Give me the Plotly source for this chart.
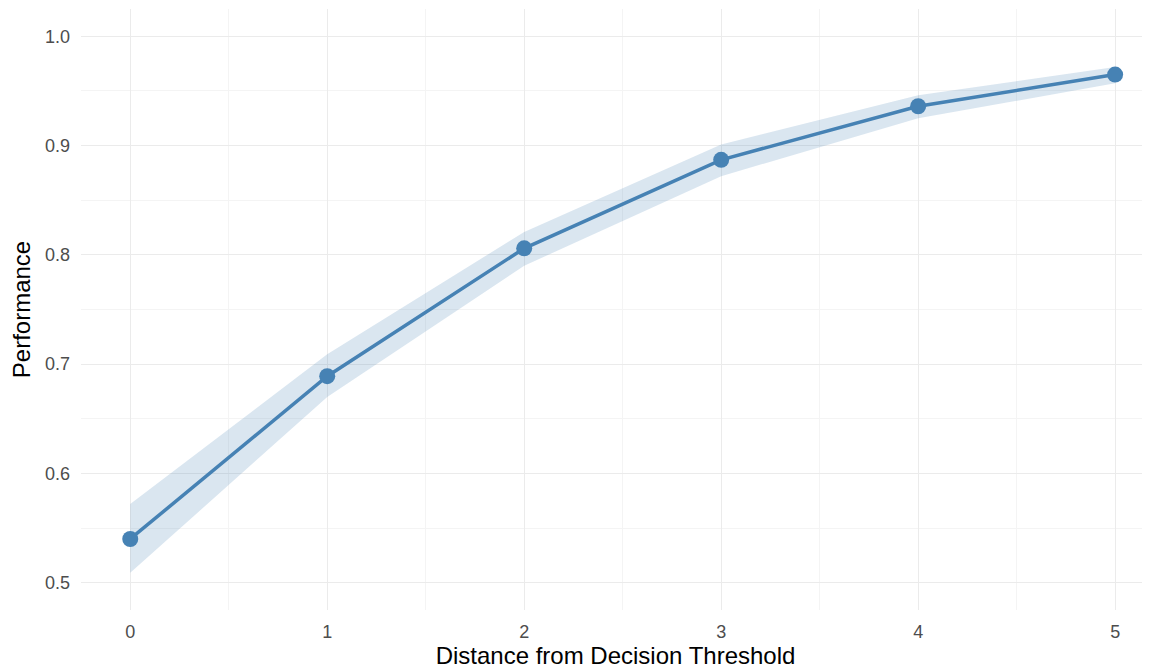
import plotly.graph_objects as go

distance = [0, 1, 2, 3, 4, 5]
performance = [0.540, 0.689, 0.806, 0.887, 0.936, 0.965]
ci_upper = [0.572, 0.709, 0.821, 0.901, 0.946, 0.972]
ci_lower = [0.509, 0.670, 0.790, 0.872, 0.925, 0.957]

steel = "#4682B4"
band = "rgba(70,130,180,0.2)"

fig = go.Figure()
fig.add_trace(go.Scatter(
    x=distance + distance[::-1],
    y=ci_upper + ci_lower[::-1],
    fill="toself", fillcolor=band, line=dict(width=0),
    mode="lines", hoverinfo="skip", showlegend=False))
fig.add_trace(go.Scatter(
    x=distance, y=performance, mode="lines+markers",
    line=dict(color=steel, width=3.5),
    marker=dict(color=steel, size=16),
    showlegend=False))

grid_major = "#EBEBEB"
grid_minor = "#F4F4F4"
# the page body has an 8px default margin, so the figure is sized to fit
fig.update_layout(
    width=1142, height=661,
    margin=dict(l=73, r=0, t=1, b=59),
    plot_bgcolor="white", paper_bgcolor="white",
    font=dict(family="Liberation Sans, Arial, sans-serif"),
    xaxis=dict(
        range=[-0.25, 5.177], tickvals=[0, 1, 2, 3, 4, 5],
        automargin=False,
        showgrid=True, gridcolor=grid_major, gridwidth=1.3,
        zeroline=False, showline=False, ticks="",
        tickfont=dict(size=18, color="#4D4D4D"),
        ticklabelstandoff=9,
        minor=dict(dtick=0.5, tick0=0.5, showgrid=True, gridcolor=grid_minor, gridwidth=1),
        title=dict(text="Distance from Decision Threshold",
                   font=dict(size=24, color="black"), standoff=2),
    ),
    yaxis=dict(
        range=[0.475, 1.025], tickvals=[0.5, 0.6, 0.7, 0.8, 0.9, 1.0],
        tickformat=".1f",
        automargin=False,
        showgrid=True, gridcolor=grid_major, gridwidth=1.3,
        zeroline=False, showline=False, ticks="",
        tickfont=dict(size=18, color="#4D4D4D"),
        ticklabelstandoff=10,
        minor=dict(dtick=0.05, tick0=0.55, showgrid=True, gridcolor=grid_minor, gridwidth=1),
        title=dict(text="Performance", font=dict(size=24, color="black"), standoff=7),
    ),
)

fig.write_html("out.html")
